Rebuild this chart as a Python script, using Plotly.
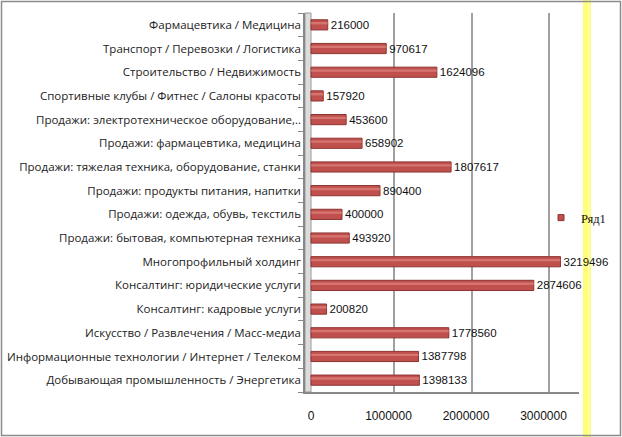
import plotly.graph_objects as go

categories = [
    "Добывающая промышленность / Энергетика",
    "Информационные технологии / Интернет / Телеком",
    "Искусство / Развлечения / Масс-медиа",
    "Консалтинг: кадровые услуги",
    "Консалтинг: юридические услуги",
    "Многопрофильный холдинг",
    "Продажи: бытовая, компьютерная техника",
    "Продажи: одежда, обувь, текстиль",
    "Продажи: продукты питания, напитки",
    "Продажи: тяжелая техника, оборудование, станки",
    "Продажи: фармацевтика, медицина",
    "Продажи: электротехническое оборудование,..",
    "Спортивные клубы / Фитнес / Салоны красоты",
    "Строительство / Недвижимость",
    "Транспорт / Перевозки / Логистика",
    "Фармацевтика / Медицина",
]
values = [1398133, 1387798, 1778560, 200820, 2874606, 3219496, 493920, 400000,
          890400, 1807617, 658902, 453600, 157920, 1624096, 970617, 216000]
series_name = "Ряд1"
tick_values = [0, 1000000, 2000000, 3000000]
tick_text = ["0", "1000000", "2000000", "3000000"]

W, H = 622, 437
L, R, T, B = 305, 43, 13, 45
PW = W - L - R
PH = H - T - B
per_px = 1000000 / 77.5
x0 = -6 * per_px
x1 = x0 + PW * per_px
shift = 5.5 * per_px

def px(xp):
    return (xp - L) / PW

def py(yp):
    return (H - B - yp) / PH

fig = go.Figure()
fig.add_trace(go.Bar(
    y=categories, x=values, orientation="h", name=series_name, showlegend=False,
    marker=dict(color="#C0504D", line=dict(color="#8E3331", width=1)),
    text=[str(v) for v in values], textposition="outside", constraintext="none",
    textfont=dict(family="Liberation Sans", size=11.5, color="#111"),
    cliponaxis=False,
))
# highlight band on bars (3D look)
fig.add_trace(go.Bar(
    y=categories, x=values, orientation="h", showlegend=False,
    marker=dict(color="rgba(232,145,140,0.55)", line=dict(width=0)),
    width=0.1, offset=0.02, hoverinfo="skip",
))
# legend entry with a small square marker
fig.add_trace(go.Scatter(
    x=[None], y=[None], mode="markers", name=series_name,
    marker=dict(symbol="square", size=6, color="#C0504D",
                line=dict(color="#8E3331", width=1)),
))

fig.update_layout(
    width=W, height=H,
    margin=dict(l=L, r=R, t=T, b=B, pad=0, autoexpand=False),
    paper_bgcolor="white", plot_bgcolor="white",
    barmode="overlay", bargap=0.57,
    showlegend=True,
    legend=dict(x=px(541), y=py(218), xanchor="left", yanchor="middle",
                xref="paper", yref="paper",
                font=dict(family="Liberation Serif", size=12.5, color="#111"),
                itemwidth=30, bgcolor="rgba(0,0,0,0)"),
    font=dict(family="Open Sans", size=11.5, color="#222"),
    xaxis=dict(range=[x0, x1], tickvals=tick_values, ticktext=tick_text,
               showgrid=False, zeroline=False, showline=True,
               linecolor="#888", linewidth=1.5, ticks="", ticklabelstandoff=12,
               tickfont=dict(family="Liberation Sans", size=12, color="#111")),
    xaxis2=dict(range=[x0 - shift, x1 - shift], overlaying="x", anchor="y",
                tickvals=tick_values[1:], showticklabels=False, showgrid=True,
                gridcolor="#A0A0A0", gridwidth=1.5, zeroline=False, ticks=""),
    yaxis=dict(showgrid=False, zeroline=False, showline=True, linecolor="#888",
               linewidth=1.5, ticks="outside", ticklen=5, tickcolor="#888",
               tickson="boundaries", automargin=False,
               range=[-0.5, len(categories) - 0.5],
               tickfont=dict(family="Open Sans", size=11.5, color="#222")),
)
# dummy trace to activate xaxis2 gridlines
fig.add_trace(go.Scatter(x=[None], y=[None], xaxis="x2", showlegend=False))

shapes = [
    # left 3D wall
    dict(type="rect", xref="x", yref="paper", x0=x0, x1=0, y0=0, y1=1,
         fillcolor="#DCDCDC", line=dict(color="#999", width=1), layer="below"),
    # yellow band
    dict(type="rect", xref="paper", yref="paper", x0=px(583), x1=px(591),
         y0=py(437), y1=py(0), fillcolor="#FFFF77", line=dict(width=0), layer="below"),
    dict(type="line", xref="paper", yref="paper", x0=px(588.5), x1=px(588.5),
         y0=py(437), y1=py(0), line=dict(color="#FFFFD8", width=1), layer="below"),
    # chart border
    dict(type="rect", xref="paper", yref="paper", x0=px(1.5), x1=px(620.5),
         y0=py(435.5), y1=py(1.5), line=dict(color="#8C8C8C", width=1.5),
         fillcolor="rgba(0,0,0,0)"),
]
fig.update_layout(shapes=shapes)

fig.write_html("out.html", config={"displayModeBar": False},
               post_script="document.body.style.margin='0';document.body.style.overflow='hidden';")
